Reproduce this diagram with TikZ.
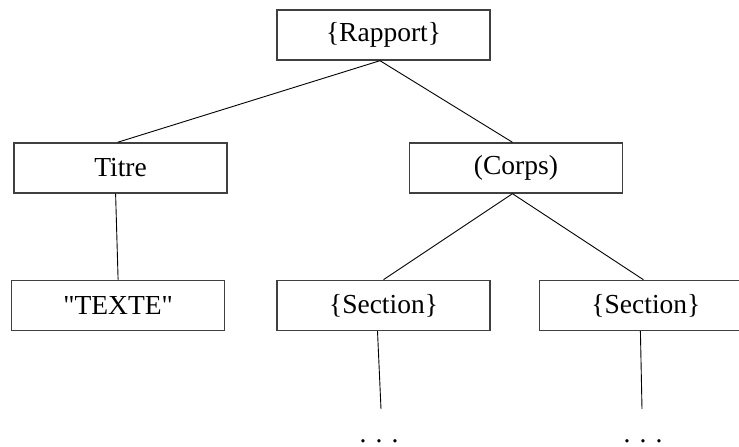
\documentclass[tikz,border=0pt]{standalone}
\usepackage{fontspec}
\setmainfont{Liberation Serif}[Ligatures=TeXOff]
\usepackage{tikz}
\usetikzlibrary{positioning}
\tikzset{
  elembox/.style={rectangle, draw=black!75, line width=1.4pt, minimum width=213pt, minimum height=50pt,
                  inner sep=0pt, font=\fontsize{27.5}{33}\selectfont},
  link/.style={line width=0.9pt, black},
  dotsnode/.style={inner sep=0pt, anchor=base, font=\fontsize{27.5}{33}\selectfont},
}

\begin{document}
\begin{tikzpicture}[x=1pt, y=-1pt]
  \useasboundingbox (0,0) rectangle (739,447);

  \node[elembox] (rapport) at (383.5,35) {\{Rapport\}};
  \node[elembox] (section1) [below=219pt of rapport] {\{Section\}};
  \node[elembox] (texte) [left=51pt of section1] {"TEXTE"};
  \node[elembox] (section2) [right=48pt of section1] {\{Section\}};
  \node[elembox] (titre) [above=86pt of texte, xshift=2.5pt] {Titre};
  \node[elembox] (corps) [right=181pt of titre] {(Corps)};

  \coordinate (end1) at (381,409);
  \coordinate (end2) at (642,409);
  \node[dotsnode] (dots1) at (379,442) {. . .};
  \node[dotsnode] (dots2) at (643,442) {. . .};

  \draw[link] ([xshift=-3.5pt]rapport.south) -- ([xshift=-3pt]titre.north);
  \draw[link] ([xshift=-3.5pt]rapport.south) -- ([xshift=-3.5pt]corps.north);
  \draw[link] ([xshift=-5pt]titre.south) -- (texte.north);
  \draw[link] ([xshift=-3.5pt]corps.south) -- (section1.north);
  \draw[link] ([xshift=-3.5pt]corps.south) -- ([xshift=-2.5pt]section2.north);
  \draw[link] ([xshift=-6pt]section1.south) -- (end1);
  \draw[link] ([xshift=-5.5pt]section2.south) -- (end2);

\end{tikzpicture}
\end{document}
